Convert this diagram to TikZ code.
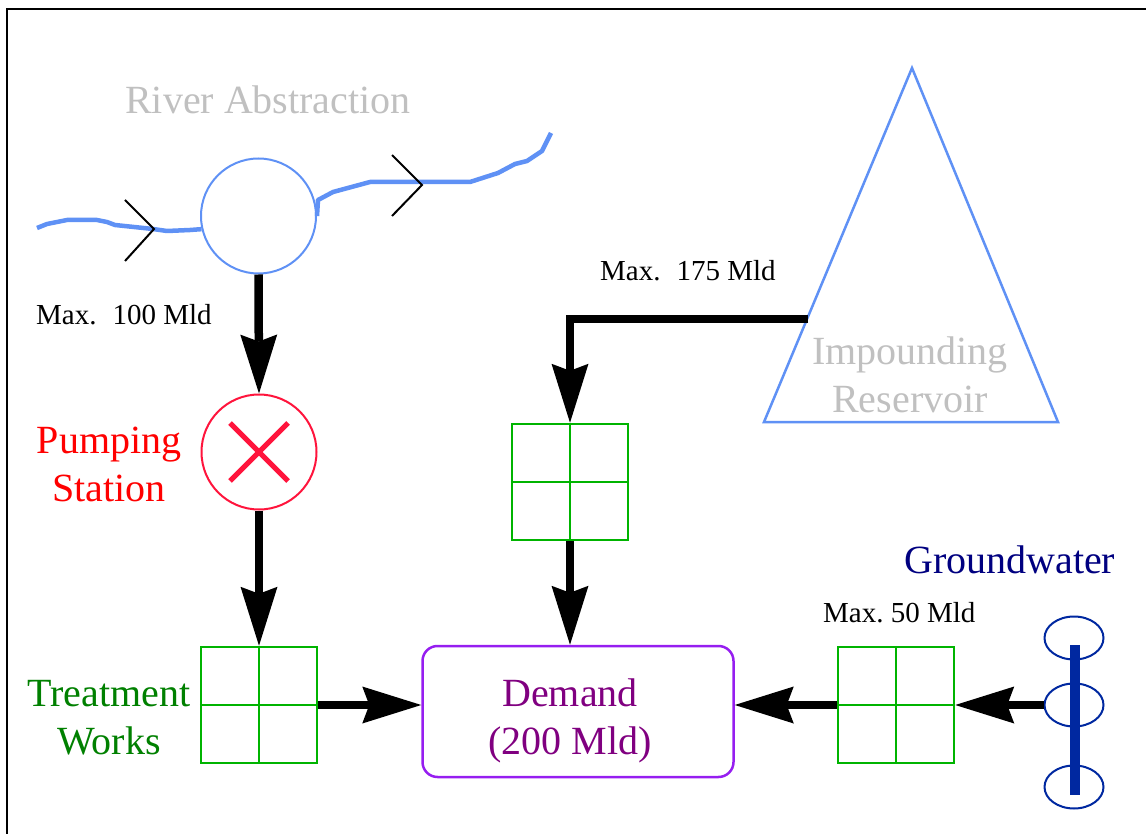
\documentclass[tikz,border=0pt]{standalone}
\usepackage{fontspec}
\setmainfont{Liberation Serif}
\usetikzlibrary{arrows.meta,shapes.geometric}
\definecolor{riverblue}{RGB}{95,145,245}
\definecolor{wellblue}{RGB}{0,40,160}
\definecolor{navytxt}{RGB}{0,0,128}
\definecolor{boxgreen}{RGB}{0,180,0}
\definecolor{txtgreen}{RGB}{0,128,0}
\definecolor{pumpred}{RGB}{255,20,60}
\definecolor{txtred}{RGB}{255,0,0}
\definecolor{dempurple}{RGB}{150,30,240}
\definecolor{txtpurple}{RGB}{128,0,128}
\definecolor{labelgray}{RGB}{192,192,192}
\frenchspacing
\begin{document}
\begin{tikzpicture}[x=1pt,y=-1pt,
  big/.style={font=\fontsize{40}{48}\selectfont, inner sep=0pt, align=center},
  small/.style={font=\fontsize{29}{35}\selectfont, inner sep=0pt},
  flow/.style={line width=8.5pt, -{Stealth[length=59pt,width=37pt,inset=7pt,line width=0pt]}},
  gbox/.style={rectangle, draw=boxgreen, line width=2.5pt, minimum size=116pt, inner sep=0pt},
  gridline/.style={draw=boxgreen, line width=2.5pt},
  river/.style={draw=riverblue, line width=4.5pt, line join=round},
  chevron/.style={draw=black, line width=2pt},
  bluecircle/.style={circle, draw=riverblue, line width=2pt, minimum size=115pt, inner sep=0pt},
  pumpcircle/.style={circle, draw=pumpred, line width=2pt, minimum size=115pt, inner sep=0pt},
  wellring/.style={ellipse, draw=wellblue, line width=2pt, minimum width=59pt, minimum height=43pt, inner sep=0pt},
]
\useasboundingbox (0,0) rectangle (1146,834);
% frame
\draw[line width=2.5pt] (1160,9) -- (7,9) -- (7,850);

% river abstraction
\node[bluecircle] (riv) at (258.5,216) {};
\draw[river] (37,228) -- (47,224) -- (67,220) -- (97,220) -- (107,222) -- (115,225) -- (153,229) -- (167,231) -- (190,230) -- (riv.193);
\draw[river] (riv.east) -- (318,200) -- (333,192) -- (370,182) -- (470,182) -- (498,173) -- (515,164) -- (527,161) -- (542,151) -- (551,133);
\draw[chevron] (125,200) -- (154,229) -- (125,261);
\draw[chevron] (392,155) -- (422,185) -- (392,216);
\node[big, text=labelgray, anchor=base west] (rivlbl) at (125,114) {River Abstraction};

% pumping station
\node[pumpcircle] (pump) at (259,452) {};
\draw[pumpred, line width=5pt] (230,423) -- (288,481) (230,481) -- (288,423);
\node[big, text=txtred] (pumplbl) at (109,464.5) {Pumping\\Station};

% treatment works
\node[gbox] (tw) at (259,705) {};
\draw[gridline] (tw.north) -- (tw.south) (tw.west) -- (tw.east);
\node[big, text=txtgreen] (twlbl) at (109,717.7) {Treatment\\Works};

% reservoir
\draw[draw=riverblue, line width=2.5pt, line join=miter] (912,68) -- (1058,422) -- (764,422) -- cycle;
\coordinate (resL) at (808,319);
\node[big, text=labelgray] (reslbl) at (910,374.4) {Impounding\\Reservoir};

% middle treatment box
\node[gbox] (mid) at (570,482) {};
\draw[gridline] (mid.north) -- (mid.south) (mid.west) -- (mid.east);

% right treatment box
\node[gbox] (rw) at (896,705) {};
\draw[gridline] (rw.north) -- (rw.south) (rw.west) -- (rw.east);

% demand
\node[rectangle, rounded corners=15pt, draw=dempurple, line width=2.5pt, minimum width=311pt, minimum height=131pt, inner sep=0pt] (dem) at (578,711.5) {};
\node[big, text=txtpurple] (demlbl) at (570,720.4) {Demand\\(200 Mld)};

% groundwater
\node[wellring] (gw1) at (1074,638) {};
\node[wellring] (gw2) at (1074,705) {};
\node[wellring] (gw3) at (1074,787) {};
\coordinate (wtop) at (1075,645);
\coordinate (wbot) at (1075,795);
\draw[wellblue, line width=10pt] (wtop) -- (wbot);
\node[big, text=navytxt, anchor=base west] (gwlbl) at (904,573) {Groundwater};

% flows
\draw[flow] (riv.south) -- (pump.north);
\draw[flow] (pump.south) -- (tw.north);
\draw[flow] (tw.east) -- (tw.east -| dem.west);
\draw[flow] (resL) -| (mid.north);
\draw[flow] (mid.south) -- (mid.south |- dem.north);
\draw[flow] (gw2.west) -- (rw.east);
\draw[flow] (rw.west) -- (rw.west -| dem.east);

% capacity labels
\node[small, anchor=base west] (cap1) at (36,325) {Max.\hspace{16pt}100 Mld};
\node[small, anchor=base west] (cap2) at (600,281) {Max.\hspace{16pt}175 Mld};
\node[small, anchor=base west] (cap3) at (823,622) {Max. 50 Mld};
\end{tikzpicture}
\end{document}
